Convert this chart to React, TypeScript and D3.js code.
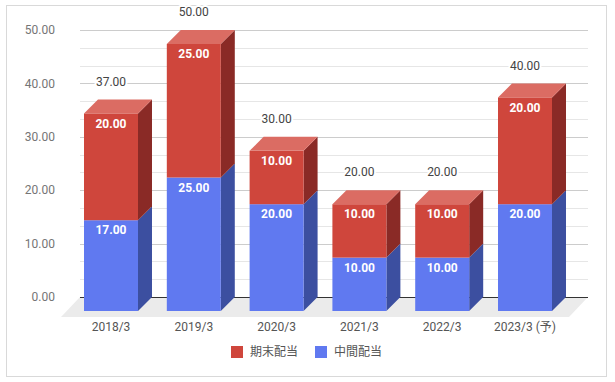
import React from "react";
import * as d3 from "d3";

const categories = ["2018/3", "2019/3", "2020/3", "2021/3", "2022/3", "2023/3 (予)"];
const interim = [17, 25, 20, 10, 10, 20]; // 中間配当
const yearEnd = [20, 25, 10, 10, 10, 20]; // 期末配当
const yTicks = [0, 10, 20, 30, 40, 50];
const seriesNames = ["期末配当", "中間配当"];

const W = 615, H = 382;
const D = 14; // 3D depth offset
const FONT = "Roboto, 'Noto Sans CJK JP', sans-serif";

const colors = {
  red: { front: "#CF463C", top: "#DB6C63", side: "#8A2A26" },
  blue: { front: "#6079F0", top: "#8094F3", side: "#3C4FA0" },
};

export default function App() {
  const y = d3.scaleLinear().domain([0, 50]).range([297, 30]);
  const x = d3.scaleBand<string>().domain(categories).range([69.6, 566.4]).paddingInner(0.348).paddingOuter(0.174);
  const bw = x.bandwidth();
  const gx0 = 80, gx1 = 588;
  const minor = d3.range(0, 50.01, 10 / 3);
  const fmt = d3.format(".2f");

  const segs: any[] = [];
  categories.forEach((c, i) => {
    const x0 = x(c)!;
    const parts = [
      { v0: 0, v1: interim[i], col: colors.blue },
      { v0: interim[i], v1: interim[i] + yearEnd[i], col: colors.red },
    ];
    parts.forEach((p, j) => segs.push({ c, i, x0, ...p, j, val: j === 0 ? interim[i] : yearEnd[i] }));
  });

  return (
    <svg width={W} height={H} style={{ position: "absolute", left: 0, top: 0, fontFamily: FONT }}>
      <rect x={0} y={0} width={W} height={H} fill="#fff" />
      <rect x={6.5} y={5.5} width={600} height={371} fill="#fff" stroke="#d9d9d9" strokeWidth={1} />
      {/* floor */}
      <polygon points={`${gx0},${y(0)} ${gx1},${y(0)} ${gx1 - 19},${y(0) + 20} ${gx0 - 19},${y(0) + 20}`} fill="#ebebeb" />
      {/* gridlines */}
      {minor.map((v, k) => (
        <line key={"m" + k} x1={gx0} x2={gx1} y1={Math.round(y(v)) + 0.5} y2={Math.round(y(v)) + 0.5} stroke={k % 3 === 0 ? "#cccccc" : "#e6e6e6"} strokeWidth={1} />
      ))}
      <line x1={gx0} x2={gx1} y1={Math.round(y(0)) + 0.5} y2={Math.round(y(0)) + 0.5} stroke="#333" strokeWidth={1} />
      {yTicks.map((t) => (
        <text key={t} x={55} y={y(t)} dy="0.35em" textAnchor="end" fontSize={12} fill="#757575">{fmt(t)}</text>
      ))}
      {/* bars */}
      {segs.map((s, k) => {
        const yb = y(s.v0) + D, yt = y(s.v1) + D;
        const x0 = s.x0, x1 = s.x0 + bw;
        return (
          <g key={k}>
            <polygon points={`${x1},${yb} ${x1 + D},${yb - D} ${x1 + D},${yt - D} ${x1},${yt}`} fill={s.col.side} />
            <rect x={x0} y={yt} width={bw} height={yb - yt} fill={s.col.front} />
            {s.j === 1 && (
              <polygon points={`${x0},${yt} ${x0 + D},${yt - D} ${x1 + D},${yt - D} ${x1},${yt}`} fill={s.col.top} />
            )}
            <text x={x0 + bw / 2} y={yt + 10} dy="0.35em" textAnchor="middle" fontSize={12} fontWeight="bold" fill="#fff">{fmt(s.val)}</text>
          </g>
        );
      })}
      {/* totals */}
      {categories.map((c, i) => (
        <text key={c} x={x(c)! + bw / 2} y={y(interim[i] + yearEnd[i]) - 18} dy="0.35em" textAnchor="middle" fontSize={12} fill="#444"
          stroke="#fff" strokeWidth={4} paintOrder="stroke" strokeLinejoin="round">{fmt(interim[i] + yearEnd[i])}</text>
      ))}
      {/* category labels */}
      {categories.map((c) => (
        <text key={c} x={x(c)! + bw / 2} y={327} dy="0.35em" textAnchor="middle" fontSize={12} fill="#555">{c}</text>
      ))}
      {/* legend */}
      <rect x={231} y={346} width={12} height={12} fill={colors.red.front} />
      <text x={250} y={352} dy="0.35em" fontSize={12} fill="#555">{seriesNames[0]}</text>
      <rect x={315} y={346} width={12} height={12} fill={colors.blue.front} />
      <text x={334} y={352} dy="0.35em" fontSize={12} fill="#555">{seriesNames[1]}</text>
    </svg>
  );
}
